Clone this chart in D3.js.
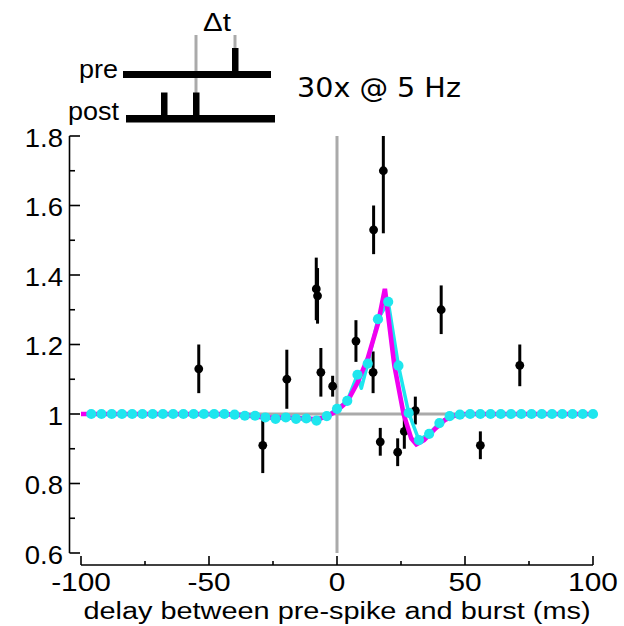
<!DOCTYPE html>
<html><head><meta charset="utf-8">
<script src="https://cdn.jsdelivr.net/npm/d3@7"></script>
<style>html,body{margin:0;padding:0;background:#fff;}svg{display:block;}</style>
</head><body>
<script>
// ---------- data ----------
const xTickValues = [-100, -50, 0, 50, 100];
const xTickLabels = ["-100", "-50", "0", "50", "100"];
const xMinorTicks = [-75, -25, 25, 75];
const yTickValues = [0.6, 0.8, 1.0, 1.2, 1.4, 1.6, 1.8];
const yTickLabels = ["0.6", "0.8", "1", "1.2", "1.4", "1.6", "1.8"];
const yMinorTicks = [0.7, 0.9, 1.1, 1.3, 1.5, 1.7];

// measured points (delay ms, weight change, error)
const dataDelay = [-54, -29, -19.6, -8.1, -7.6, -6.3, -1.7, 7.4, 14.1, 14.3, 18.1, 16.9, 23.7, 26.3, 30.6, 40.7, 56.0, 71.4];
const dataValue = [1.13, 0.91, 1.10, 1.36, 1.34, 1.12, 1.08, 1.21, 1.12, 1.53, 1.70, 0.92, 0.89, 0.95, 1.01, 1.30, 0.91, 1.14];
const dataError = [0.07, 0.08, 0.085, 0.09, 0.08, 0.07, 0.03, 0.06, 0.06, 0.07, 0.18, 0.04, 0.04, 0.05, 0.04, 0.07, 0.04, 0.06];

// cyan model samples (dots)
const cyanDelay = [-96,-92,-88,-84,-80,-76,-72,-68,-64,-60,-56,-52,-48,-44,-40,-36,-32,-28,-24,-20,-16,-12,-8,-4,0,4,8,12,16,20,24,28,32,36,40,44,48,52,56,60,64,68,72,76,80,84,88,92,96,100];
const cyanValue = [1,1,1,1,1,1,1,1,1,1,1,1,1,1,0.998,0.995,0.995,0.99,0.986,0.99,0.986,0.987,0.981,0.994,1.015,1.038,1.113,1.145,1.273,1.323,1.139,1.003,0.925,0.943,0.974,0.994,0.998,1,1,1,1,1,1,1,1,1,1,1,1,1];
// cyan connecting line (includes the small notch read between 8 and 12 ms)
const cyanLineDelay = [-96,-40,-36,-32,-28,-24,-20,-16,-12,-8,-4,0,4,8,9.5,12,16,20,24,28,32,36,40,44,48,52,100];
const cyanLineValue = [1,0.998,0.995,0.995,0.99,0.986,0.99,0.986,0.987,0.981,0.994,1.015,1.038,1.113,1.074,1.145,1.273,1.323,1.139,1.003,0.925,0.943,0.974,0.994,0.998,1,1];

// magenta model curve
const magDelay = [-100, -44, -36, -28, -20, -12, -8, -4, 0, 4, 8, 12, 16, 18.7, 22.4, 26, 29, 31, 34, 38, 42, 46, 50, 100];
const magValue = [1.0, 1.0, 0.996, 0.99, 0.99, 0.987, 0.985, 0.992, 1.01, 1.035, 1.09, 1.16, 1.26, 1.36, 1.14, 1.0, 0.93, 0.913, 0.925, 0.955, 0.982, 0.995, 1.0, 1.0];

// ---------- layout ----------
const W = 624, H = 626;
const svg = d3.select("body").append("svg").attr("width", W).attr("height", H);
const x = d3.scaleLinear().domain([-100, 100]).range([81, 593]);
const y = d3.scaleLinear().domain([0.6, 1.8]).range([553, 136]);
const FONT = "'Liberation Sans', Arial, Helvetica, sans-serif";

function txt(g, str, tx, ty, size, anchor, sx, family) {
  return g.append("text").attr("transform", `translate(${tx},${ty}) scale(${sx},1)`)
    .attr("text-anchor", anchor).attr("font-family", family || FONT)
    .attr("font-size", size).attr("fill", "#000").text(str);
}

// reference lines
svg.append("line").attr("x1", x(-100)).attr("x2", x(100)).attr("y1", y(1)).attr("y2", y(1))
  .attr("stroke", "#aaaaaa").attr("stroke-width", 3);
svg.append("line").attr("x1", x(0)).attr("x2", x(0)).attr("y1", y(1.8)).attr("y2", y(0.6))
  .attr("stroke", "#aaaaaa").attr("stroke-width", 3);

// y axis
const gy = svg.append("g");
gy.append("line").attr("x1", 69.5).attr("x2", 69.5).attr("y1", y(1.8)).attr("y2", y(0.6)).attr("stroke", "#000").attr("stroke-width", 1.6);
yTickValues.forEach((v, i) => {
  gy.append("line").attr("x1", 69.5).attr("x2", 80).attr("y1", y(v)).attr("y2", y(v)).attr("stroke", "#000").attr("stroke-width", 1.6);
  txt(gy, yTickLabels[i], 63, y(v) + 10.5, 25.5, "end", 1.08);
});
yMinorTicks.forEach(v => {
  gy.append("line").attr("x1", 69.5).attr("x2", 75).attr("y1", y(v)).attr("y2", y(v)).attr("stroke", "#000").attr("stroke-width", 1.6);
});

// x axis
const gx = svg.append("g");
gx.append("line").attr("x1", x(-100)).attr("x2", x(100)).attr("y1", 565).attr("y2", 565).attr("stroke", "#000").attr("stroke-width", 1.6);
xTickValues.forEach((v, i) => {
  gx.append("line").attr("x1", x(v)).attr("x2", x(v)).attr("y1", 565).attr("y2", 556).attr("stroke", "#000").attr("stroke-width", 1.6);
  txt(gx, xTickLabels[i], x(v), 590.5, 25.5, "middle", 1.17);
});
xMinorTicks.forEach(v => {
  gx.append("line").attr("x1", x(v)).attr("x2", x(v)).attr("y1", 565).attr("y2", 561).attr("stroke", "#000").attr("stroke-width", 1.6);
});
txt(gx, "delay between pre-spike and burst (ms)", 337, 618.5, 24.8, "middle", 1.165);

// data error bars + points
const pts = dataDelay.map((d, i) => ({ d, v: dataValue[i], e: dataError[i] }));
const gd = svg.append("g");
gd.selectAll("line.err").data(pts).enter().append("line")
  .attr("x1", p => x(p.d)).attr("x2", p => x(p.d))
  .attr("y1", p => y(Math.min(1.8, p.v + p.e))).attr("y2", p => y(Math.max(0.6, p.v - p.e)))
  .attr("stroke", "#000").attr("stroke-width", 3);
gd.selectAll("circle").data(pts).enter().append("circle")
  .attr("cx", p => x(p.d)).attr("cy", p => y(p.v)).attr("r", 4.4).attr("fill", "#000");

// model curves
const line = d3.line().x(p => x(p[0])).y(p => y(p[1]));
svg.append("path").datum(cyanLineDelay.map((d, i) => [d, cyanLineValue[i]]))
  .attr("d", line).attr("fill", "none").attr("stroke", "#1ee6ee").attr("stroke-width", 3.5).attr("stroke-linejoin", "round");
svg.append("path").datum(magDelay.map((d, i) => [d, magValue[i]]))
  .attr("d", line).attr("fill", "none").attr("stroke", "#f000f0").attr("stroke-width", 4.6).attr("stroke-linejoin", "miter");
svg.append("g").selectAll("circle").data(cyanDelay.map((d, i) => [d, cyanValue[i]])).enter().append("circle")
  .attr("cx", p => x(p[0])).attr("cy", p => y(p[1])).attr("r", 5.1).attr("fill", "#1ee6ee");

// ---------- inset schematic ----------
const gi = svg.append("g");
gi.append("line").attr("x1", 196).attr("x2", 196).attr("y1", 35).attr("y2", 93).attr("stroke", "#aaaaaa").attr("stroke-width", 3);
gi.append("line").attr("x1", 235).attr("x2", 235).attr("y1", 35).attr("y2", 49).attr("stroke", "#aaaaaa").attr("stroke-width", 3);
gi.append("rect").attr("x", 123).attr("y", 71).attr("width", 148).attr("height", 7).attr("fill", "#000");
gi.append("rect").attr("x", 232).attr("y", 48).attr("width", 6.5).attr("height", 24).attr("fill", "#000");
gi.append("rect").attr("x", 126).attr("y", 115).attr("width", 149).attr("height", 7.5).attr("fill", "#000");
gi.append("rect").attr("x", 161).attr("y", 92.5).attr("width", 6.5).attr("height", 23).attr("fill", "#000");
gi.append("rect").attr("x", 193).attr("y", 92.5).attr("width", 6.5).attr("height", 23).attr("fill", "#000");
txt(gi, "pre", 118, 78, 25, "end", 1.08);
txt(gi, "post", 119, 120, 25, "end", 1.08);
txt(gi, "\u0394t", 217, 31, 25, "middle", 1.18);
txt(gi, "30x @ 5 Hz", 297, 97, 26, "start", 1.1, "'DejaVu Sans', sans-serif");
</script>
</body></html>
